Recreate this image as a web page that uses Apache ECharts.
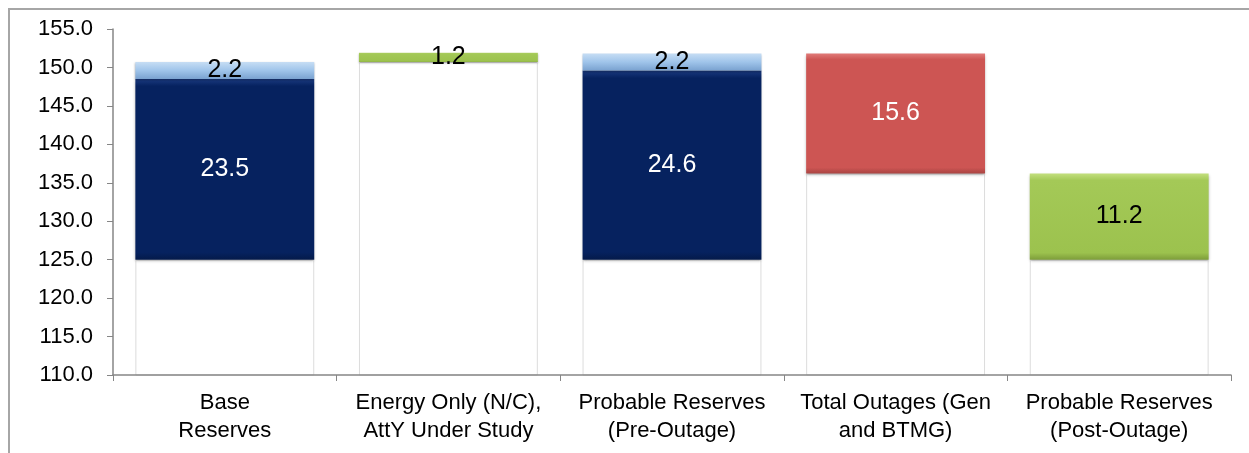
<!DOCTYPE html>
<html>
<head>
<meta charset="utf-8">
<script src="https://cdn.jsdelivr.net/npm/echarts@6/dist/echarts.min.js"></script>
<style>html,body{margin:0;padding:0;background:#fff;}#c{width:1249px;height:453px;}</style>
</head>
<body>
<div id="c"></div>
<script>
const categories = ['Base\nReserves', 'Energy Only (N/C),\nAttY Under Study', 'Probable Reserves\n(Pre-Outage)', 'Total Outages (Gen\nand BTMG)', 'Probable Reserves\n(Post-Outage)'];
const baseValues = [125.0, 150.7, 125.0, 136.2, 125.0];
const mainValues = [23.5, null, 24.6, 15.6, 11.2];
const topValues = [2.2, 1.2, 2.2, null, null];
const yTicks = { min: 110, max: 155, interval: 5 };

const navy = { type: 'linear', x: 0, y: 0, x2: 0, y2: 1, colorStops: [{offset: 0, color: '#1a3a80'}, {offset: 0.04, color: '#06225f'}, {offset: 0.96, color: '#06225f'}, {offset: 1, color: '#041a4a'}] };
const lightBlue = { type: 'linear', x: 0, y: 0, x2: 0, y2: 1, colorStops: [{offset: 0, color: '#c6ddf4'}, {offset: 0.5, color: '#9fc4ea'}, {offset: 1, color: '#7aa2d0'}] };
const red = { type: 'linear', x: 0, y: 0, x2: 0, y2: 1, colorStops: [{offset: 0, color: '#e07a78'}, {offset: 0.05, color: '#cd5553'}, {offset: 0.95, color: '#cd5553'}, {offset: 1, color: '#a94442'}] };
const green = { type: 'linear', x: 0, y: 0, x2: 0, y2: 1, colorStops: [{offset: 0, color: '#c3df7e'}, {offset: 0.08, color: '#a4c957'}, {offset: 0.92, color: '#9cc24e'}, {offset: 1, color: '#7d9d3a'}] };
const mainColors = [navy, null, navy, red, green];
const mainLabelColors = ['#fff', '#fff', '#fff', '#fff', '#000'];
const topColors = [lightBlue, green, lightBlue, null, null];

const chart = echarts.init(document.getElementById('c'));
const font = 'Liberation Sans, Arial, sans-serif';
chart.setOption({
  animation: false,
  backgroundColor: '#fff',
  graphic: [{ type: 'rect', shape: { x: 9, y: 9, width: 1400, height: 600 }, style: { fill: 'none', stroke: '#a6a6a6', lineWidth: 2 }, silent: true }],
  grid: { left: 113, right: 18, top: 29, bottom: 78 },
  xAxis: {
    type: 'category', data: categories, z: 10,
    axisLine: { lineStyle: { color: '#868686', width: 1.5 } },
    axisTick: { show: true, length: 6, lineStyle: { color: '#868686' } },
    axisLabel: { color: '#000', fontSize: 22, fontFamily: font, lineHeight: 28, margin: 14, interval: 0 }
  },
  yAxis: {
    type: 'value', min: yTicks.min, max: yTicks.max, interval: yTicks.interval, z: 10,
    axisLine: { show: true, lineStyle: { color: '#868686', width: 1.5 } },
    axisTick: { show: true, length: 6, lineStyle: { color: '#868686' } },
    splitLine: { show: false },
    axisLabel: { color: '#000', fontSize: 22, fontFamily: font, margin: 20, formatter: v => v.toFixed(1) }
  },
  series: [
    {
      type: 'bar', stack: 'w', barWidth: '80%',
      data: baseValues,
      itemStyle: { color: '#fff', borderColor: '#dcdcdc', borderWidth: 1 },
      silent: true
    },
    {
      type: 'bar', stack: 'w',
      data: mainValues.map((v, i) => v == null ? '-' : {
        value: v,
        itemStyle: { color: mainColors[i], shadowColor: 'rgba(0,0,0,0.35)', shadowBlur: 3, shadowOffsetY: 1 },
        label: { color: mainLabelColors[i] }
      }),
      label: { show: true, position: 'inside', fontSize: 25, fontFamily: font, formatter: p => p.value.toFixed(1) }
    },
    {
      type: 'bar', stack: 'w',
      data: topValues.map((v, i) => v == null ? '-' : {
        value: v,
        itemStyle: { color: topColors[i], shadowColor: 'rgba(0,0,0,0.3)', shadowBlur: 2, shadowOffsetY: 1 }
      }),
      label: { show: true, position: 'inside', color: '#000', fontSize: 25, fontFamily: font, formatter: p => p.value.toFixed(1) }
    }
  ]
});
</script>
</body>
</html>
